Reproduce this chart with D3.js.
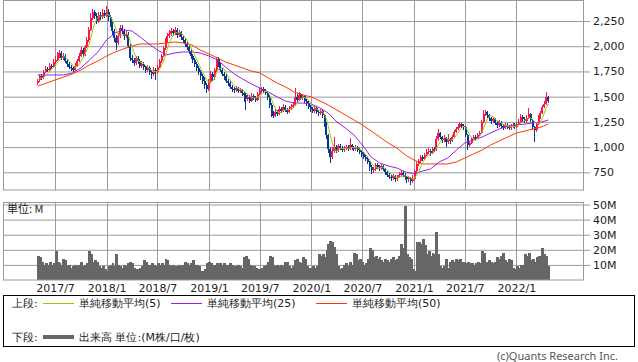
<!DOCTYPE html>
<meta charset="utf-8">
<script src="https://d3js.org/d3.v7.min.js"></script>
<style>
  body { margin: 0; background: #fff; }
  svg text { font-family: "DejaVu Sans", sans-serif; }
</style>
<body>
<div id="chart"></div>
<script>

// weekly candles, first week starts 2017-05-01
var firstWeek = new Date(2017, 4, 1);

var opens = [
  1640, 1665, 1700, 1690, 1745, 1770, 1760, 1800, 1790, 1840,
  1860, 1900, 1930, 1880, 1900, 1850, 1820, 1790, 1780, 1760,
  1800, 1850, 1900, 1960, 1920, 1990, 2060, 2160, 2280, 2340,
  2300, 2250, 2310, 2290, 2330, 2300, 2340, 2290, 2220, 2150,
  2080, 2030, 2100, 2180, 2150, 2100, 2120, 2000, 1880, 1860,
  1830, 1880, 1850, 1800, 1820, 1790, 1760, 1780, 1740, 1720,
  1760, 1740, 1790, 1850, 1900, 1980, 2050, 2100, 2120, 2150,
  2130, 2160, 2110, 2140, 2090, 2060, 2020, 1990, 1950, 1900,
  1860, 1820, 1780, 1740, 1700, 1660, 1620, 1580, 1660, 1720,
  1690, 1760, 1870, 1820, 1760, 1720, 1700, 1660, 1640, 1600,
  1580, 1570, 1590, 1560, 1570, 1540, 1520, 1480, 1500, 1460,
  1510, 1490, 1470, 1530, 1560, 1580, 1560, 1540, 1500, 1420,
  1340, 1310, 1350, 1330, 1380, 1360, 1400, 1370, 1350, 1380,
  1400, 1420, 1500, 1470, 1520, 1490, 1510, 1460, 1440, 1400,
  1380, 1360, 1390, 1350, 1340, 1360, 1320, 1240, 1120, 980,
  900, 960, 1000, 960, 1010, 990, 970, 990, 1000, 980,
  1020, 990, 980, 1000, 970, 950, 930, 900, 880, 850,
  800, 770, 780, 820, 800, 790, 810, 780, 750, 720,
  700, 690, 710, 680, 700, 720, 740, 720, 700, 680,
  690, 660, 680, 760, 830, 860, 900, 880, 920, 950,
  960, 940, 980, 970, 1080, 1140, 1100, 1070, 1090, 1050,
  1080, 1060, 1100, 1150, 1180, 1200, 1230, 1210, 1200, 1120,
  1020, 1040, 1080, 1100, 1090, 1120, 1140, 1250, 1330, 1350,
  1320, 1290, 1260, 1280, 1240, 1220, 1250, 1210, 1190, 1220,
  1200, 1190, 1210, 1220, 1200, 1230, 1250, 1300, 1280, 1260,
  1290, 1330, 1270, 1200, 1170, 1230, 1300, 1340, 1400, 1430,
  1500
];

var highs = [
  1680, 1720, 1720, 1760, 1800, 1790, 1830, 1820, 1870, 1900,
  1940, 1960, 1950, 1930, 1920, 1870, 1840, 1810, 1800, 1830,
  1870, 1930, 1990, 1980, 2010, 2090, 2190, 2330, 2370, 2360,
  2330, 2340, 2340, 2370, 2360, 2400, 2370, 2310, 2240, 2170,
  2110, 2130, 2210, 2210, 2170, 2150, 2140, 2020, 1910, 1880,
  1900, 1900, 1870, 1850, 1840, 1810, 1810, 1800, 1760, 1790,
  1780, 1810, 1870, 1920, 2000, 2080, 2130, 2160, 2180, 2170,
  2190, 2180, 2160, 2150, 2110, 2080, 2040, 2010, 1970, 1920,
  1880, 1840, 1800, 1760, 1720, 1690, 1640, 1680, 1750, 1740,
  1780, 1890, 1890, 1840, 1780, 1740, 1720, 1680, 1660, 1620,
  1600, 1610, 1600, 1590, 1580, 1560, 1540, 1530, 1520, 1540,
  1530, 1510, 1550, 1590, 1600, 1600, 1580, 1550, 1520, 1440,
  1360, 1380, 1370, 1410, 1400, 1430, 1420, 1390, 1410, 1430,
  1450, 1590, 1530, 1550, 1540, 1530, 1520, 1480, 1460, 1420,
  1400, 1420, 1400, 1370, 1380, 1380, 1330, 1250, 1130, 1000,
  1000, 1100, 1020, 1030, 1030, 1010, 1010, 1020, 1020, 1090,
  1030, 1010, 1020, 1010, 990, 970, 950, 920, 900, 860,
  820, 800, 845, 840, 820, 830, 820, 790, 760, 740,
  720, 730, 720, 720, 750, 770, 760, 740, 710, 710,
  700, 720, 780, 850, 880, 920, 920, 940, 980, 990,
  980, 1000, 1000, 1110, 1175, 1150, 1110, 1120, 1100, 1130,
  1090, 1120, 1170, 1200, 1230, 1250, 1240, 1230, 1210, 1130,
  1060, 1100, 1120, 1120, 1140, 1160, 1270, 1370, 1370, 1360,
  1330, 1300, 1300, 1290, 1260, 1270, 1260, 1230, 1240, 1240,
  1220, 1230, 1240, 1240, 1250, 1280, 1330, 1320, 1300, 1320,
  1390, 1340, 1280, 1210, 1250, 1320, 1360, 1420, 1460, 1550,
  1510
];

var lows = [
  1620, 1650, 1670, 1680, 1730, 1740, 1750, 1770, 1780, 1820,
  1850, 1880, 1860, 1860, 1830, 1790, 1770, 1750, 1740, 1750,
  1790, 1840, 1890, 1890, 1900, 1980, 2040, 2150, 2260, 2270,
  2220, 2230, 2260, 2270, 2280, 2290, 2250, 2190, 2110, 2040,
  1960, 2010, 2080, 2120, 2060, 2080, 1980, 1850, 1830, 1800,
  1810, 1820, 1780, 1780, 1760, 1730, 1740, 1710, 1680, 1700,
  1670, 1720, 1780, 1830, 1890, 1960, 2030, 2080, 2100, 2100,
  2110, 2080, 2090, 2060, 2030, 1990, 1960, 1920, 1870, 1830,
  1790, 1750, 1710, 1670, 1630, 1580, 1535, 1560, 1640, 1660,
  1670, 1740, 1790, 1740, 1700, 1670, 1640, 1610, 1580, 1550,
  1540, 1550, 1540, 1540, 1510, 1450, 1370, 1460, 1440, 1450,
  1470, 1450, 1460, 1520, 1540, 1540, 1520, 1470, 1390, 1300,
  1290, 1300, 1310, 1320, 1340, 1350, 1350, 1330, 1340, 1370,
  1390, 1410, 1450, 1460, 1470, 1470, 1440, 1410, 1380, 1350,
  1340, 1340, 1330, 1310, 1320, 1290, 1200, 1080, 940, 846,
  880, 940, 940, 950, 970, 950, 950, 970, 960, 970,
  970, 960, 960, 950, 930, 900, 880, 860, 830, 760,
  730, 740, 760, 780, 760, 770, 760, 720, 700, 680,
  660, 670, 650, 660, 690, 700, 700, 670, 640, 650,
  620, 640, 670, 740, 810, 840, 860, 870, 910, 930,
  910, 930, 950, 960, 1060, 1080, 1040, 1050, 1000, 1030,
  1030, 1050, 1090, 1140, 1170, 1190, 1190, 1170, 1100, 975,
  1000, 1030, 1070, 1070, 1080, 1110, 1130, 1240, 1310, 1290,
  1260, 1230, 1240, 1220, 1190, 1200, 1190, 1170, 1180, 1180,
  1170, 1170, 1190, 1180, 1190, 1220, 1240, 1250, 1240, 1240,
  1280, 1250, 1170, 1050, 1150, 1220, 1280, 1330, 1390, 1420,
  1440
];

var closes = [
  1660, 1700, 1690, 1740, 1770, 1760, 1800, 1790, 1840, 1860,
  1900, 1930, 1880, 1900, 1850, 1820, 1790, 1780, 1760, 1800,
  1850, 1900, 1960, 1920, 1990, 2060, 2160, 2280, 2340, 2300,
  2250, 2310, 2290, 2330, 2300, 2340, 2290, 2220, 2150, 2080,
  2030, 2100, 2180, 2150, 2100, 2120, 2000, 1880, 1860, 1830,
  1880, 1850, 1800, 1820, 1790, 1760, 1780, 1740, 1720, 1760,
  1740, 1790, 1850, 1900, 1980, 2050, 2100, 2120, 2150, 2130,
  2160, 2110, 2140, 2090, 2060, 2020, 1990, 1950, 1900, 1860,
  1820, 1780, 1740, 1700, 1660, 1620, 1580, 1660, 1720, 1690,
  1760, 1870, 1820, 1760, 1720, 1700, 1660, 1640, 1600, 1580,
  1570, 1590, 1560, 1570, 1540, 1520, 1480, 1500, 1460, 1510,
  1490, 1470, 1530, 1560, 1580, 1560, 1540, 1500, 1420, 1340,
  1310, 1350, 1330, 1380, 1360, 1400, 1370, 1350, 1380, 1400,
  1420, 1500, 1470, 1520, 1490, 1510, 1460, 1440, 1400, 1380,
  1360, 1390, 1350, 1340, 1360, 1320, 1240, 1120, 980, 900,
  960, 1000, 960, 1010, 990, 970, 990, 1000, 980, 1020,
  990, 980, 1000, 970, 950, 930, 900, 880, 850, 800,
  770, 780, 820, 800, 790, 810, 780, 750, 720, 700,
  690, 710, 680, 700, 720, 740, 720, 700, 680, 690,
  660, 680, 760, 830, 860, 900, 880, 920, 950, 960,
  940, 980, 970, 1080, 1140, 1100, 1070, 1090, 1050, 1080,
  1060, 1100, 1150, 1180, 1200, 1230, 1210, 1200, 1120, 1020,
  1040, 1080, 1100, 1090, 1120, 1140, 1250, 1330, 1350, 1320,
  1290, 1260, 1280, 1240, 1220, 1250, 1210, 1190, 1220, 1200,
  1190, 1210, 1220, 1200, 1230, 1250, 1300, 1280, 1260, 1290,
  1330, 1270, 1200, 1170, 1230, 1300, 1340, 1400, 1430, 1500,
  1460
];

// weekly volume, millions
var volumes = [
  16, 15, 12, 10, 11, 10, 12, 10, 11, 19,
  12, 11, 10, 14, 13, 9, 10, 8, 9, 10,
  9, 10, 12, 9, 10, 11, 19, 17, 12, 13,
  12, 9, 8, 9, 7, 6, 9, 10, 11, 9,
  17, 10, 9, 8, 10, 9, 11, 12, 11, 8,
  7, 7, 8, 9, 13, 12, 10, 10, 11, 10,
  9, 11, 10, 11, 10, 14, 13, 10, 9, 10,
  9, 9, 10, 9, 10, 12, 11, 10, 11, 13,
  10, 10, 9, 6, 6, 7, 11, 12, 11, 10,
  10, 11, 10, 11, 10, 11, 10, 10, 11, 10,
  9, 9, 10, 9, 8, 15, 16, 14, 10, 9,
  9, 8, 7, 7, 8, 9, 10, 12, 16, 15,
  10, 9, 10, 9, 10, 9, 12, 12, 9, 8,
  9, 13, 14, 12, 11, 15, 14, 9, 8, 8,
  9, 8, 9, 17, 16, 17, 15, 20, 24, 26,
  25, 22, 17, 9, 7, 8, 10, 11, 9, 12,
  10, 18, 17, 13, 14, 12, 10, 11, 14, 21,
  20, 15, 16, 14, 15, 13, 12, 14, 13, 12,
  14, 15, 13, 14, 16, 24, 21, 49, 17, 15,
  14, 7, 6, 25, 25, 24, 27, 23, 17, 19,
  16, 18, 17, 32, 17, 9, 8, 9, 14, 8,
  12, 13, 12, 14, 13, 14, 12, 12, 11, 12,
  11, 11, 10, 11, 12, 11, 19, 18, 12, 11,
  13, 12, 11, 12, 15, 14, 16, 18, 13, 12,
  14, 13, 8, 7, 9, 8, 10, 10, 17, 16,
  18, 13, 14, 12, 15, 16, 14, 21, 17, 16,
  9
];

// 25 and 50 week averages read at the start of each month (last point: final week)
var ma25 = [
  1715, 1715, 1715, 1715, 1735, 1784, 1863, 1943,
  2062, 2131, 2161, 2151, 2091, 2022, 1963, 1913, 1933, 1943, 1943, 1933,
  1903, 1863, 1794, 1725, 1675, 1626, 1586, 1546, 1497, 1457, 1437, 1437,
  1427, 1388, 1338, 1249, 1190, 1120, 1021, 902, 843, 813, 793, 754,
  734, 764, 783, 853, 892, 971, 1041, 1071, 1100, 1140, 1180, 1209,
  1219, 1229, 1239, 1249, 1269
];
var ma50 = [
  1606, 1635, 1665, 1695, 1725, 1764, 1814, 1853,
  1903, 1943, 1972, 2002, 2022, 2022, 2022, 2032, 2042, 2032, 2012, 1963,
  1923, 1883, 1844, 1814, 1784, 1754, 1735, 1685, 1635, 1596, 1546, 1517,
  1497, 1457, 1418, 1368, 1318, 1269, 1219, 1160, 1100, 1041, 991, 922,
  872, 833, 833, 833, 833, 853, 892, 932, 971, 1020, 1061, 1100,
  1140, 1160, 1180, 1200, 1229
];

var priceTicks = [750, 1000, 1250, 1500, 1750, 2000, 2250];
var volumeTicks = [10, 20, 30, 40, 50];
var dateTicks = ["2017/7", "2018/1", "2018/7", "2019/1", "2019/7", "2020/1", "2020/7", "2021/1", "2021/7", "2022/1"];

var parseMonth = d3.timeParse("%Y/%m");
var weeks = closes.map(function(d, i) { return d3.timeDay.offset(firstWeek, 7 * i); });
var maDates = d3.timeMonth.range(new Date(2017, 4, 1), new Date(2022, 4, 1));
maDates.push(weeks[weeks.length - 1]);

var ma5 = closes.map(function(d, i) {
  return d3.mean(closes.slice(Math.max(0, i - 4), i + 1));
});

var gridColor = "#9a9a9a";
var upColor = "#ff1448";
var downColor = "#08379a";

var svg = d3.select("#chart")
  .append("svg")
    .attr("width", 638)
    .attr("height", 362);

// scales
var x = d3.scaleTime()
  .domain([new Date(2017, 6, 1), new Date(2021, 0, 1)])
  .range([55, 414]);
var y = d3.scaleLinear()
  .domain([575, 2458])
  .range([190, 0]);
var yv = d3.scaleLinear()
  .domain([0, 50])
  .range([280, 204.5]);

// horizontal grid + right labels, price panel
var yAxis = svg.append("g")
  .attr("transform", "translate(3,0)")
  .call(d3.axisRight(y).tickValues(priceTicks).tickSize(587).tickPadding(3).tickFormat(d3.format(",")));
yAxis.select(".domain").remove();
yAxis.selectAll("line").attr("stroke", gridColor);
yAxis.selectAll("text").attr("font-size", "11px").attr("fill", "#222").attr("font-family", "DejaVu Sans");

// same for volume panel
var vAxis = svg.append("g")
  .attr("transform", "translate(3,0)")
  .call(d3.axisRight(yv).tickValues(volumeTicks).tickSize(587).tickPadding(3).tickFormat(function(d) { return d + "M"; }));
vAxis.select(".domain").remove();
vAxis.selectAll("line").attr("stroke", gridColor);
vAxis.selectAll("text").attr("font-size", "11px").attr("fill", "#222").attr("font-family", "DejaVu Sans");

// vertical grid lines in both panels
[[0, 190], [202, 280]].forEach(function(p) {
  svg.append("g").selectAll("line")
    .data(dateTicks)
    .enter()
    .append("line")
      .attr("x1", function(d) { return Math.round(x(parseMonth(d))) + 0.5; })
      .attr("x2", function(d) { return Math.round(x(parseMonth(d))) + 0.5; })
      .attr("y1", p[0])
      .attr("y2", p[1])
      .attr("stroke", gridColor);
});

// date labels under the volume panel
var xAxis = svg.append("g")
  .attr("transform", "translate(0,280)")
  .call(d3.axisBottom(x).tickValues(dateTicks.map(parseMonth)).tickSize(0).tickPadding(4).tickFormat(d3.timeFormat("%Y/%-m")));
xAxis.select(".domain").remove();
xAxis.selectAll("text").attr("font-size", "11px").attr("fill", "#222").attr("font-family", "DejaVu Sans");

// volume bars (slightly overlapping so they read as a solid histogram)
var step = x(weeks[1]) - x(weeks[0]);
svg.append("g")
  .attr("shape-rendering", "crispEdges")
  .selectAll("rect")
  .data(volumes)
  .enter()
  .append("rect")
    .attr("x", function(d, i) { return x(weeks[i]) - step / 2; })
    .attr("y", function(d) { return yv(d); })
    .attr("width", step + 1)
    .attr("height", function(d) { return yv(0) - yv(d); })
    .attr("fill", "#666");

// candles
var candles = svg.append("g")
  .attr("shape-rendering", "crispEdges")
  .selectAll("g")
  .data(closes)
  .enter()
  .append("g");
candles.append("line")
  .attr("x1", function(d, i) { return x(weeks[i]); })
  .attr("x2", function(d, i) { return x(weeks[i]); })
  .attr("y1", function(d, i) { return y(highs[i]); })
  .attr("y2", function(d, i) { return y(lows[i]); })
  .attr("stroke-width", 1)
  .attr("stroke", function(d, i) { return d >= opens[i] ? upColor : downColor; });
candles.append("rect")
  .attr("x", function(d, i) { return x(weeks[i]) - 1; })
  .attr("y", function(d, i) { return y(Math.max(d, opens[i])); })
  .attr("width", 2)
  .attr("height", function(d, i) { return Math.max(1, Math.abs(y(d) - y(opens[i]))); })
  .attr("fill", function(d, i) { return d >= opens[i] ? upColor : downColor; });

// moving averages
var ma5Line = d3.line()
  .x(function(d, i) { return x(weeks[i]); })
  .y(function(d) { return y(d); });
var maLine = d3.line()
  .x(function(d, i) { return x(maDates[i]); })
  .y(function(d) { return y(d); });

svg.append("path").datum(ma50).attr("d", maLine)
  .attr("fill", "none").attr("stroke", "#ff3a00").attr("stroke-width", 1);
svg.append("path").datum(ma25).attr("d", maLine)
  .attr("fill", "none").attr("stroke", "#9a1ef0").attr("stroke-width", 1);
svg.append("path").datum(ma5).attr("d", ma5Line)
  .attr("fill", "none").attr("stroke", "#99cc00").attr("stroke-width", 1);

// panel frames
svg.append("rect").attr("x", 3.5).attr("y", 0.5).attr("width", 580).attr("height", 189.5)
  .attr("fill", "none").attr("stroke", gridColor);
svg.append("rect").attr("x", 3.5).attr("y", 202.5).attr("width", 580).attr("height", 77.5)
  .attr("fill", "none").attr("stroke", gridColor);

svg.append("text")
  .attr("x", 7).attr("y", 213)
  .attr("font-size", "11px")
  .style("font-family", "'Noto Sans CJK JP'")
  .attr("fill", "#222")
  .text("単位: M");

// legend
var legend = svg.append("g").style("font-family", "'Noto Sans CJK JP'").attr("font-size", "11px").attr("fill", "#222");
legend.append("rect").attr("x", 3.5).attr("y", 295.5).attr("width", 631).attr("height", 51)
  .attr("fill", "none").attr("stroke", "#000");

var maItems = [
  {x: 43, color: "#99cc00", label: "単純移動平均(5)"},
  {x: 171, color: "#9a1ef0", label: "単純移動平均(25)"},
  {x: 316, color: "#ff3a00", label: "単純移動平均(50)"}
];
legend.append("text").attr("x", 12).attr("y", 307).text("上段:");
maItems.forEach(function(m) {
  legend.append("line").attr("x1", m.x).attr("x2", m.x + 31).attr("y1", 303.5).attr("y2", 303.5)
    .attr("stroke", m.color).attr("stroke-width", 1);
  legend.append("text").attr("x", m.x + 36).attr("y", 307).text(m.label);
});
legend.append("text").attr("x", 12).attr("y", 341).text("下段:");
legend.append("line").attr("x1", 43).attr("x2", 74).attr("y1", 337).attr("y2", 337)
  .attr("stroke", "#666").attr("stroke-width", 4);
legend.append("text").attr("x", 79).attr("y", 341).text("出来高 単位:(M株/口/枚)");

svg.append("text")
  .attr("x", 618).attr("y", 360)
  .attr("text-anchor", "end")
  .attr("font-size", "11px")
  .style("font-family", "'Noto Sans'")
  .attr("fill", "#555")
  .text("(c)Quants Research Inc.");

</script>
